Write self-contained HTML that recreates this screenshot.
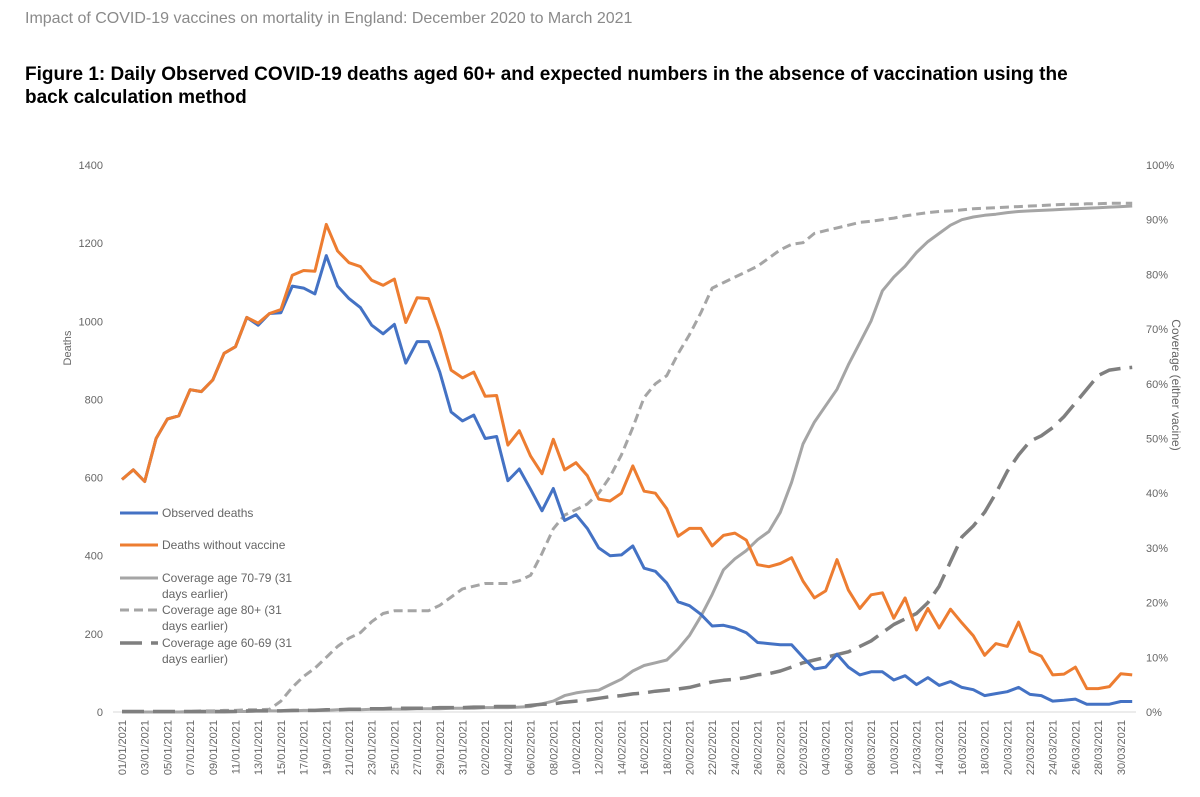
<!DOCTYPE html>
<html><head><meta charset="utf-8"><style>
body{margin:0;background:#fff;font-family:"Liberation Sans",sans-serif;}
#wrap{position:relative;width:1200px;height:797px;overflow:hidden;}
.t1{position:absolute;left:25px;top:10px;font-size:16px;color:#8a8a8a;}
.t2{position:absolute;left:25px;top:63px;font-size:19px;font-weight:bold;color:#000;line-height:23px;width:1090px;}
svg text{font-family:"Liberation Sans",sans-serif;fill:#666;}
</style></head><body><div id="wrap">
<div class="t1">Impact of COVID-19 vaccines on mortality in England: December 2020 to March 2021</div>
<div class="t2">Figure 1: Daily Observed COVID-19 deaths aged 60+ and expected numbers in the absence of vaccination using the back calculation method</div>
<svg id="chart" width="1200" height="797" style="position:absolute;left:0;top:0"></svg>
</div>
<script>
const withoutVaccine=[595,620,590,700,750,758,825,820,850,918,935,1010,995,1020,1030,1118,1130,1128,1248,1180,1150,1140,1105,1092,1108,997,1060,1058,975,875,855,870,808,810,683,720,655,610,698,620,638,605,545,540,560,630,565,560,520,450,470,470,425,452,458,440,377,372,380,395,335,292,310,390,312,265,300,305,240,292,210,265,215,263,228,195,145,175,168,230,155,143,95,97,115,60,60,65,98,95];
const observed=[595,620,590,700,750,758,825,820,850,918,935,1010,990,1020,1022,1090,1085,1070,1168,1090,1058,1035,990,968,992,893,948,948,870,768,745,760,700,705,592,622,570,515,572,490,505,470,420,400,402,425,368,360,330,282,272,250,220,222,215,203,178,175,172,172,140,110,115,148,115,95,103,103,82,93,70,88,68,78,63,57,42,47,52,63,45,42,28,30,33,20,20,20,27,27];
const cov80=[0,0,0,0,0,0,0.1,0.2,0.2,0.3,0.3,0.4,0.4,0.5,2,4.5,6.5,8,10,12,13.5,14.5,16.5,18,18.5,18.5,18.5,18.5,19.5,21,22.5,23,23.5,23.5,23.5,24,25,29,33.5,36,37,38,40,43,47,52,57.5,60,61.5,65.5,69,73,77.5,78.5,79.5,80.5,81.5,83,84.5,85.5,85.8,87.5,88,88.5,89,89.5,89.7,90,90.3,90.7,91,91.3,91.5,91.6,91.8,92,92.1,92.2,92.3,92.4,92.5,92.6,92.7,92.8,92.8,92.9,92.9,93,93,93];
const cov7079=[0,0,0,0,0,0,0,0,0,0,0.1,0.1,0.2,0.2,0.2,0.2,0.3,0.3,0.3,0.4,0.4,0.4,0.5,0.5,0.5,0.5,0.6,0.6,0.6,0.7,0.7,0.7,0.8,0.8,0.8,0.9,1,1.5,2,3,3.5,3.8,4,5,6,7.5,8.5,9,9.5,11.5,14,17.5,21.5,26,28,29.5,31.5,33,36.5,42,49,53,56,59,63.5,67.5,71.5,77,79.5,81.5,84,86,87.5,89,90,90.5,90.8,91,91.3,91.5,91.6,91.7,91.8,91.9,92,92.1,92.2,92.3,92.4,92.5];
const cov6069=[0.1,0.1,0.1,0.1,0.1,0.1,0.1,0.1,0.1,0.1,0.1,0.2,0.2,0.2,0.2,0.3,0.3,0.3,0.4,0.4,0.5,0.5,0.6,0.6,0.7,0.7,0.7,0.7,0.8,0.8,0.8,0.9,0.9,1,1,1,1.2,1.4,1.5,1.8,2,2.2,2.5,2.8,3,3.3,3.5,3.8,4,4.2,4.5,5,5.5,5.8,6,6.3,6.8,7,7.5,8.2,9,9.5,10,10.5,11,12,13,14.5,16,17,18,20,23,27.5,32,34,36.5,40,44,47,49.5,50.5,52,54,56.5,59,61.5,62.5,62.8,63];
const deathTicks=[0,200,400,600,800,1000,1200,1400];
const pctTicks=[0,10,20,30,40,50,60,70,80,90,100];
const dayLabels=[];
for(let d=1;d<=31;d++)dayLabels.push(String(d).padStart(2,'0')+'/01/2021');
for(let d=1;d<=28;d++)dayLabels.push(String(d).padStart(2,'0')+'/02/2021');
for(let d=1;d<=31;d++)dayLabels.push(String(d).padStart(2,'0')+'/03/2021');

const svg=document.getElementById('chart');const NS='http://www.w3.org/2000/svg';
const x0=122,dx=11.35,yb=712,yt=165;
const xs=i=>x0+i*dx;
const yL=v=>yb-(v/1400)*(yb-yt);
const yR=p=>yb-(p/100)*(yb-yt);
function mk(t,a){const e=document.createElementNS(NS,t);for(const k in a)e.setAttribute(k,a[k]);svg.appendChild(e);return e;}
const ax=mk('line',{x1:113,x2:1136,y1:yb,y2:yb,stroke:'#d9d9d9','stroke-width':1});


deathTicks.forEach(v=>{const t=mk('text',{x:103,y:yL(v)+4,'text-anchor':'end','font-size':11});t.textContent=v;

});
pctTicks.forEach(p=>{const t=mk('text',{x:1146,y:yR(p)+4,'font-size':11});t.textContent=p+'%';

});
dayLabels.forEach((l,i)=>{if(i%2)return;const x=xs(i)+4;const t=mk('text',{x:x,y:720,'text-anchor':'end','font-size':11,transform:`rotate(-90 ${x} 720)`});t.textContent=l;

});
let t=mk('text',{x:71,y:348,'text-anchor':'middle','font-size':11,transform:'rotate(-90 71 348)'});t.textContent='Deaths';


t=mk('text',{x:1172,y:385,'text-anchor':'middle','font-size':12,transform:'rotate(90 1172 385)'});t.textContent='Coverage (either vacine)';


function line(arr,yf,st,name){const d=arr.map((v,i)=>(i?'L':'M')+xs(i).toFixed(1)+' '+yf(v).toFixed(1)).join(' ');
const p=mk('path',Object.assign({d:d,fill:'none','stroke-linejoin':'round'},st));

}
line(cov7079,yR,{stroke:'#a5a5a5','stroke-width':3},'coverage-70-79-line');
line(cov80,yR,{stroke:'#a5a5a5','stroke-width':3,'stroke-dasharray':'9 5'},'coverage-80-plus-line');
line(cov6069,yR,{stroke:'#7f7f7f','stroke-width':3.5,'stroke-dasharray':'22 9'},'coverage-60-69-line');
line(observed,yL,{stroke:'#4472c4','stroke-width':3},'observed-deaths-line');
line(withoutVaccine,yL,{stroke:'#ed7d31','stroke-width':3},'deaths-without-vaccine-line');
const leg=[['Observed deaths',null,{stroke:'#4472c4','stroke-width':3},513],['Deaths without vaccine',null,{stroke:'#ed7d31','stroke-width':3},545],['Coverage age 70-79 (31','days earlier)',{stroke:'#a5a5a5','stroke-width':3},578],['Coverage age 80+ (31','days earlier)',{stroke:'#a5a5a5','stroke-width':3,'stroke-dasharray':'9 5'},610],['Coverage age 60-69 (31','days earlier)',{stroke:'#7f7f7f','stroke-width':3.5,'stroke-dasharray':'22 9'},643]];
leg.forEach(l=>{const ln=mk('line',Object.assign({x1:120,x2:158,y1:l[3],y2:l[3]},l[2]));


const a=mk('text',{x:162,y:l[3]+4,'font-size':12});a.textContent=l[0];


if(l[1]){const b=mk('text',{x:162,y:l[3]+20,'font-size':12});b.textContent=l[1];

}});
</script></body></html>
